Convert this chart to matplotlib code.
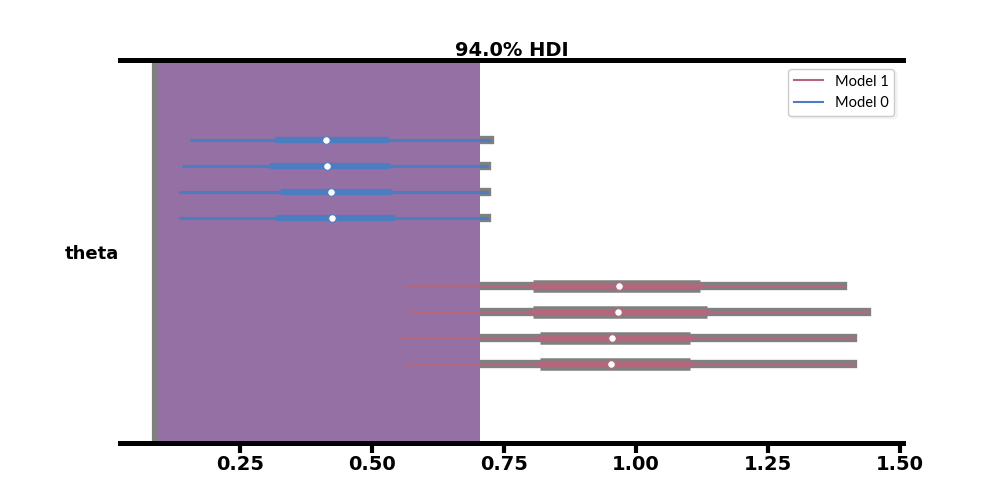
import numpy as np
import matplotlib
matplotlib.use('Agg')
import matplotlib.pyplot as plt
from matplotlib.lines import Line2D

# forest plot values, one entry per chain
models = ['Model 0', 'Model 1']
colors = ['#4c7dc0', '#b3677d']

hdi_low = [[0.157, 0.142, 0.136, 0.136], [0.566, 0.568, 0.553, 0.563]]
hdi_high = [[0.723, 0.718, 0.718, 0.718], [1.392, 1.438, 1.411, 1.411]]
q25 = [[0.320, 0.311, 0.331, 0.322], [0.805, 0.805, 0.818, 0.818]]
q75 = [[0.528, 0.530, 0.534, 0.540], [1.121, 1.134, 1.102, 1.102]]
medians = [[0.413, 0.415, 0.422, 0.424], [0.968, 0.966, 0.955, 0.953]]

span = (0.089, 0.705)
xticks = [0.25, 0.50, 0.75, 1.00, 1.25, 1.50]
title = '94.0% HDI'
var_name = 'theta'


def main():
    fig = plt.figure(figsize=(10, 5), dpi=100)
    ax = fig.add_axes([0.12, 0.114, 0.783, 0.766])

    ax.axvspan(span[0], span[1], color='#9570a5', lw=0, zorder=2)
    ax.axvline(span[0], color='#808080', lw=4.5, zorder=2.1)

    ys_all = []
    for m, name in enumerate(models):
        n = len(medians[m])
        ys = m * (n + 1.6) + np.arange(n)
        ys_all.extend(ys)
        for i, y in enumerate(ys):
            ax.plot([hdi_low[m][i], hdi_high[m][i]], [y, y], color='#808080',
                    lw=6, solid_capstyle='projecting', zorder=1)
            ax.plot([q25[m][i], q75[m][i]], [y, y], color='#808080',
                    lw=9, solid_capstyle='butt', zorder=1)
            ax.plot([hdi_low[m][i], hdi_high[m][i]], [y, y], color=colors[m],
                    lw=2.3, solid_capstyle='round', zorder=3)
            ax.plot([q25[m][i], q75[m][i]], [y, y], color=colors[m],
                    lw=4.5, solid_capstyle='round', zorder=3)
            ax.plot(medians[m][i], y, 'o', mfc='white', mec=colors[m],
                    ms=5.5, mew=0.8, zorder=4)

    ax.set_ylim(11.65, -3.08)
    ax.set_xlim(0.0227, 1.5057)

    ax.set_xticks(xticks)
    ax.set_xticklabels(['{:.2f}'.format(t) for t in xticks],
                       fontsize=14, fontweight='bold')
    ax.tick_params(axis='x', length=7, width=3, color='black', pad=2)
    ax.set_yticks([np.mean(ys_all)])
    ax.set_yticklabels([var_name], fontsize=13, fontweight='bold')
    ax.tick_params(axis='y', length=0, pad=1)

    for s in ['left', 'right']:
        ax.spines[s].set_visible(False)
    for s in ['top', 'bottom']:
        ax.spines[s].set_linewidth(3.6)
        ax.spines[s].set_color('black')

    ax.set_title(title, fontsize=14, fontweight='bold', pad=1)

    handles = [Line2D([], [], color=colors[m], lw=1.5) for m in (1, 0)]
    leg = ax.legend(handles, [models[1], models[0]], loc='upper right',
                    prop={'family': 'Lato', 'size': 10.5},
                    frameon=True, framealpha=1, edgecolor='#cccccc',
                    borderaxespad=0.6, handlelength=2.0,
                    shadow={'color': '0.93'})
    leg.get_frame().set_linewidth(1)

    fig.savefig('out.png', dpi=100)


main()
